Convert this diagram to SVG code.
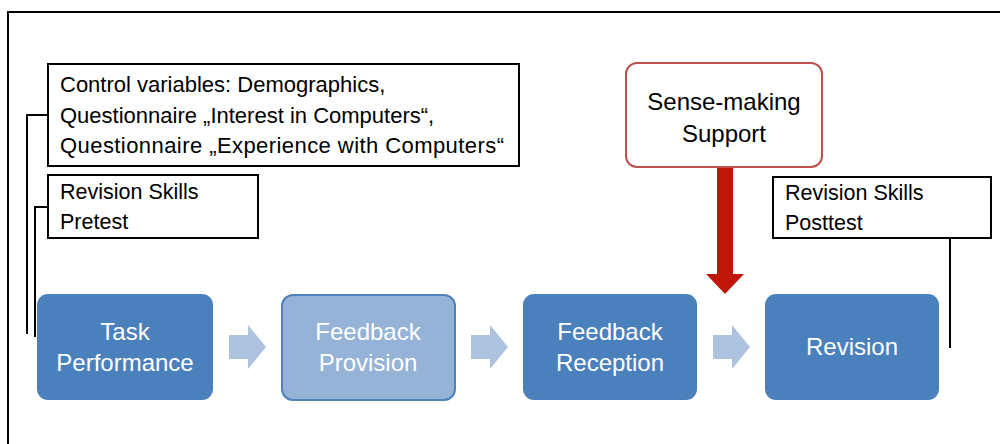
<svg xmlns="http://www.w3.org/2000/svg" width="1000" height="444" viewBox="0 0 1000 444">
  <style>
    .frame { fill: #ffffff; stroke: #000000; stroke-width: 2; }
    .note { fill: #ffffff; stroke: #000000; stroke-width: 2; }
    .note-text { font-family: "Liberation Sans", Arial, sans-serif; font-size: 21.5px; fill: #000000; }
    .note-text.wide { font-size: 22px; }
    .step { fill: #4a81bd; }
    .step-light { fill: #95b3d7; stroke: #4f81bd; stroke-width: 2; }
    .step-text { font-family: "Liberation Sans", Arial, sans-serif; font-size: 24px; fill: #ffffff; text-anchor: middle; }
    .support { fill: #ffffff; stroke: #c0504d; stroke-width: 2; }
    .support-text { font-family: "Liberation Sans", Arial, sans-serif; font-size: 24px; fill: #000000; text-anchor: middle; }
    .link { fill: none; stroke: #000000; stroke-width: 2; }
    .flow { fill: #adc2df; }
    .push { fill: #c0160a; }
  </style>
  <defs>
    <path id="flow-arrow" d="M0 -12 H19 V-22 L37 0 L19 22 V12 H0 Z"/>
  </defs>

  <rect class="frame" x="8" y="12" width="1000" height="440"/>

  <!-- connectors -->
  <g id="connectors">
    <polyline class="link" points="48,115 27,115 27,334"/>
    <polyline class="link" points="48,207 35,207 35,337"/>
    <polyline class="link" points="950,238 950,348"/>
    <use href="#flow-arrow" class="flow" x="229" y="347"/>
    <use href="#flow-arrow" class="flow" x="471" y="347"/>
    <use href="#flow-arrow" class="flow" x="713" y="347"/>
    <path class="push" d="M717 167 H733 V274 H744 L725 294 L706 274 H717 Z"/>
  </g>

  <g id="control-variables">
    <rect class="note" x="48" y="64" width="471" height="102"/>
    <text class="note-text wide" x="60" y="92">Control variables: Demographics,</text>
    <text class="note-text wide" x="60" y="123">Questionnaire „Interest in Computers“,</text>
    <text class="note-text wide" x="60" y="153" textLength="444" lengthAdjust="spacing">Questionnaire „Experience with Computers“</text>
  </g>

  <g id="pretest">
    <rect class="note" x="48" y="175" width="210" height="63"/>
    <text class="note-text" x="60" y="199">Revision Skills</text>
    <text class="note-text" x="60" y="229">Pretest</text>
  </g>

  <g id="posttest">
    <rect class="note" x="773" y="177" width="218" height="61"/>
    <text class="note-text" x="785" y="200">Revision Skills</text>
    <text class="note-text" x="785" y="230">Posttest</text>
  </g>

  <g id="sense-making-support">
    <rect class="support" x="626" y="63" width="196" height="104" rx="11"/>
    <text class="support-text" x="724" y="110">Sense-making</text>
    <text class="support-text" x="724" y="142">Support</text>
  </g>

  <g id="task-performance">
    <rect class="step" x="37" y="294" width="176" height="106" rx="11"/>
    <text class="step-text" x="125" y="340">Task</text>
    <text class="step-text" x="125" y="371">Performance</text>
  </g>

  <g id="feedback-provision">
    <rect class="step-light" x="282" y="295" width="173" height="105" rx="11"/>
    <text class="step-text" x="368" y="340">Feedback</text>
    <text class="step-text" x="368" y="371">Provision</text>
  </g>

  <g id="feedback-reception">
    <rect class="step" x="523" y="294" width="174" height="106" rx="11"/>
    <text class="step-text" x="610" y="340">Feedback</text>
    <text class="step-text" x="610" y="371">Reception</text>
  </g>

  <g id="revision">
    <rect class="step" x="765" y="294" width="174" height="106" rx="11"/>
    <text class="step-text" x="852" y="355">Revision</text>
  </g>
</svg>
